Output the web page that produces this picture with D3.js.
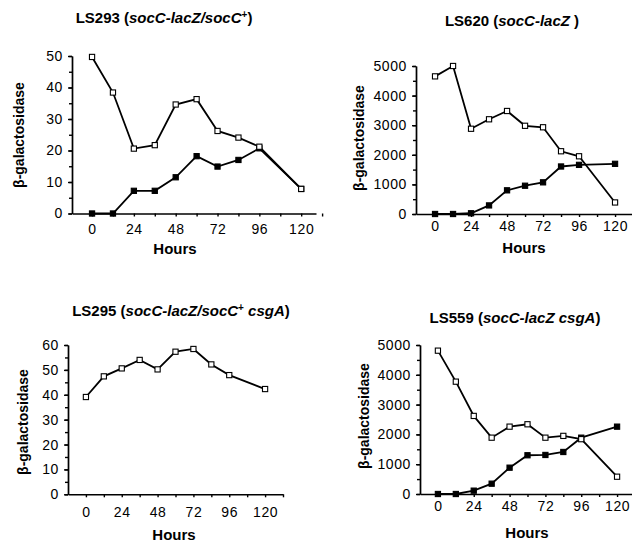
<!DOCTYPE html>
<html>
<head>
<meta charset="utf-8">
<script src="https://cdn.jsdelivr.net/npm/d3@7"></script>
<style>
  body { margin: 0; background: #fff; }
  svg { display: block; font-family: "Liberation Sans", Arial, Helvetica, sans-serif; }
  .domain, .tick line { stroke: #000; stroke-width: 1.4; }
  .tick text { fill: #000; font-size: 14px; letter-spacing: 0.6px; }
</style>
</head>
<body>
<svg id="chart" width="632" height="542"></svg>
<script>
// sampling times (hours) shared by all four strains
const hours = [0, 12, 24, 36, 48, 60, 72, 84, 96, 120];
const hourTicks = [0, 12, 24, 36, 48, 60, 72, 84, 96, 108, 120, 132];
const hourLabels = [0, 24, 48, 72, 96, 120];

// beta-galactosidase, open = one series, filled = the other
const ls293Open   = [49.7, 38.4, 20.6, 21.7, 34.6, 36.3, 26.2, 24.1, 21.2, 7.8];
const ls293Filled = [0, 0, 7.2, 7.2, 11.5, 18.2, 14.9, 17.0, 20.7, 7.8];
const ls620Open   = [4650, 5000, 2880, 3200, 3480, 2980, 2930, 2120, 1950, 390];
const ls620Filled = [0, 0, 25, 290, 800, 955, 1070, 1605, 1660, 1695];
const ls295Open   = [39.1, 47.4, 50.6, 54.0, 50.2, 57.3, 58.4, 52.2, 47.9, 42.3];
const ls559Open   = [4810, 3770, 2620, 1890, 2260, 2340, 1890, 1950, 1840, 580];
const ls559Filled = [0, 0, 112, 346, 883, 1300, 1310, 1410, 1890, 2260];

const ticks50 = [0, 10, 20, 30, 40, 50];
const ticks60 = [0, 10, 20, 30, 40, 50, 60];
const ticks5000 = [0, 1000, 2000, 3000, 4000, 5000];

const yLabel = "\u03B2-galactosidase";
const xLabel = "Hours";

// title pieces: [text, style]
const title293 = [["LS293 (", ""], ["socC-lacZ/socC", "i"], ["+", "sup"], [")", ""]];
const title620 = [["LS620 (", ""], ["socC-lacZ", "i"], [" )", ""]];
const title295 = [["LS295 (", ""], ["socC-lacZ/socC", "i"], ["+", "sup"], [" ", ""], ["csgA", "i"], [")", ""]];
const title559 = [["LS559 (", ""], ["socC-lacZ csgA", "i"], [")", ""]];

const panels = [
    { title: title293, open: ls293Open, filled: ls293Filled, yTicks: ticks50, yMinor: 5,
      xd: [-11.5, 128.5], xr: [72, 316], yr: [213.5, 56],
      tx: 164, ty: 23, lx: 19, ly: 135, hx: 175, hy: 254, xPad: 8 },
    { title: title620, open: ls620Open, filled: ls620Filled, yTicks: ticks5000, yMinor: 500,
      xd: [-12.7, 131.3], xr: [416, 632], yr: [214, 66],
      tx: 512, ty: 26, lx: 358.5, ly: 138, hx: 524, hy: 253, xPad: 4 },
    { title: title295, open: ls295Open, filled: null, yTicks: ticks60, yMinor: 5,
      xd: [-12, 132], xr: [68, 283], yr: [494.3, 345],
      tx: 181, ty: 316, lx: 22.5, ly: 422, hx: 174, hy: 540, xPad: 10 },
    { title: title559, open: ls559Open, filled: ls559Filled, yTicks: ticks5000, yMinor: 500,
      xd: [-12, 130], xr: [420, 632], yr: [494, 345],
      tx: 515, ty: 323, lx: 363.5, ly: 416, hx: 527, hy: 538, xPad: 4 }
];

const svg = d3.select("#chart");

panels.forEach(p => {
    const g = svg.append("g");
    const yMax = d3.max(p.yTicks);
    const x = d3.scaleLinear().domain(p.xd).range(p.xr);
    const y = d3.scaleLinear().domain([0, yMax]).range(p.yr);

    // minor y ticks (no labels)
    g.append("g")
        .attr("transform", `translate(${p.xr[0]},0)`)
        .call(d3.axisLeft(y).tickValues(d3.range(0, yMax + 1, p.yMinor)).tickSize(3).tickSizeOuter(0).tickFormat(""));
    g.append("g")
        .attr("transform", `translate(${p.xr[0]},0)`)
        .call(d3.axisLeft(y).tickValues(p.yTicks).tickSize(4).tickSizeOuter(0).tickPadding(5)
            .tickFormat(d3.format("d")));

    // x axis: ticks every 12h, labels every 24h
    g.append("g")
        .attr("transform", `translate(0,${p.yr[0]})`)
        .call(d3.axisBottom(x).tickValues(hourTicks).tickSize(3).tickSizeOuter(0)
            .tickPadding(p.xPad)
            .tickFormat(d => hourLabels.includes(d) ? d : ""));

    const line = d3.line()
        .x((d, i) => x(hours[i]))
        .y(d => y(d));

    const series = [];
    if (p.filled) series.push({ v: p.filled, fill: "#000" });
    series.push({ v: p.open, fill: "#fff" });

    series.forEach(s => {
        g.append("path")
            .datum(s.v)
            .attr("d", line)
            .attr("fill", "none")
            .attr("stroke", "#000")
            .attr("stroke-width", 1.8);
    });
    series.forEach(s => {
        g.selectAll(null)
            .data(s.v)
            .join("rect")
            .attr("x", (d, i) => x(hours[i]) - 2.6)
            .attr("y", d => y(d) - 2.6)
            .attr("width", 5.2)
            .attr("height", 5.2)
            .attr("fill", s.fill)
            .attr("stroke", "#000")
            .attr("stroke-width", 1.1);
    });

    // title
    const t = g.append("text")
        .attr("x", p.tx).attr("y", p.ty)
        .attr("text-anchor", "middle")
        .attr("font-size", 15).attr("font-weight", "bold");
    p.title.forEach(([txt, st]) => {
        const ts = t.append("tspan").text(txt);
        if (st === "i") ts.attr("font-style", "italic");
        if (st === "sup") ts.attr("font-size", 10).attr("baseline-shift", "super");
    });

    g.append("text")
        .attr("transform", `translate(${p.lx},${p.ly}) rotate(-90)`)
        .attr("text-anchor", "middle")
        .attr("dominant-baseline", "central")
        .attr("font-size", 14).attr("font-weight", "bold")
        .text(yLabel);

    g.append("text")
        .attr("x", p.hx).attr("y", p.hy)
        .attr("text-anchor", "middle")
        .attr("font-size", 15).attr("font-weight", "bold")
        .text(xLabel);
});
</script>
</body>
</html>
